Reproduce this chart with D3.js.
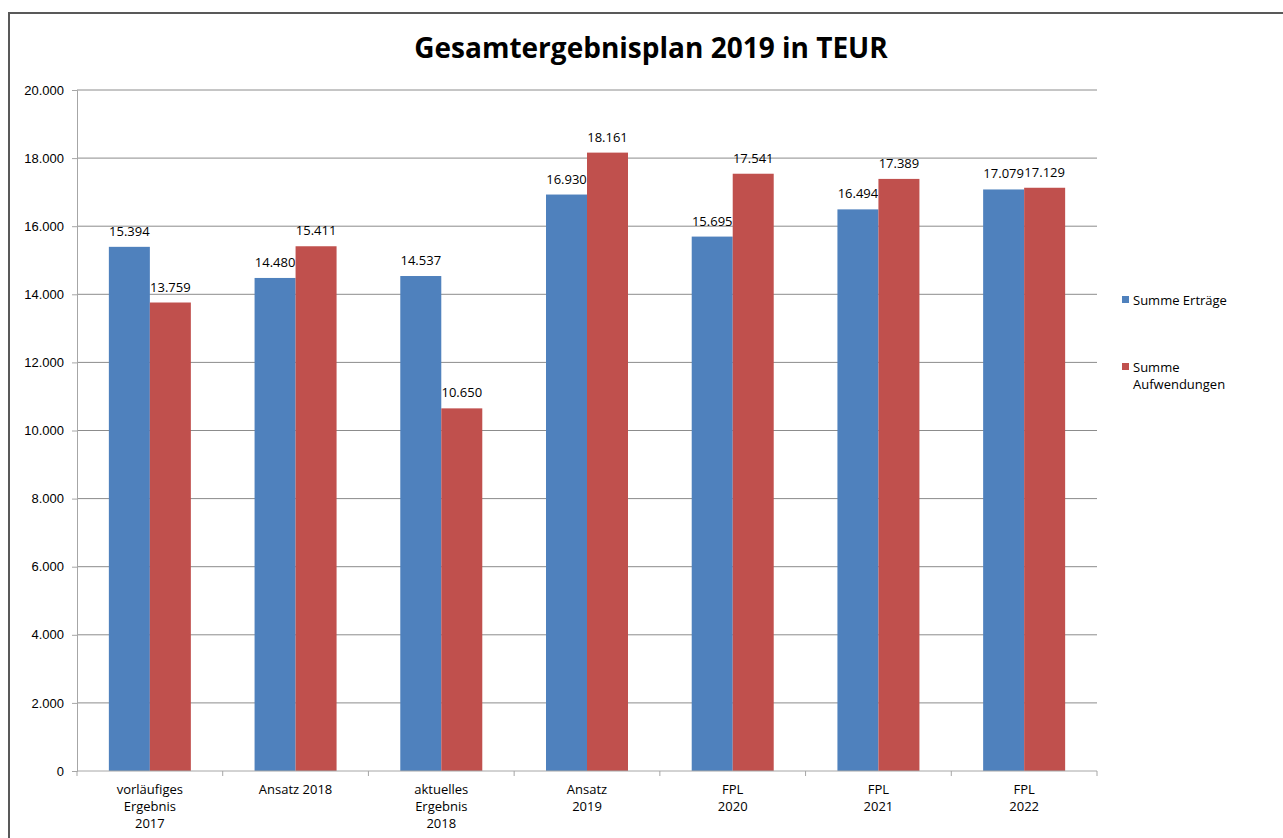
<!DOCTYPE html>
<html>
<head>
<meta charset="utf-8">
<script src="https://cdn.jsdelivr.net/npm/d3@7"></script>
<style>
  body { margin: 0; background: #fff; }
  svg { display: block; font-family: "Open Sans", "Liberation Sans", sans-serif; }
</style>
</head>
<body>
<svg id="chart" width="1283" height="838"></svg>
<script>
"use strict";

const categories = [
  ["vorläufiges", "Ergebnis", "2017"],
  ["Ansatz 2018"],
  ["aktuelles", "Ergebnis", "2018"],
  ["Ansatz", "2019"],
  ["FPL", "2020"],
  ["FPL", "2021"],
  ["FPL", "2022"]
];
const ertraege = [15394, 14480, 14537, 16930, 15695, 16494, 17079];
const aufwendungen = [13759, 15411, 10650, 18161, 17541, 17389, 17129];
const seriesNames = ["Summe Erträge", ["Summe", "Aufwendungen"]];
const colors = ["#4f81bd", "#c0504d"];
const yTicks = [0, 2000, 4000, 6000, 8000, 10000, 12000, 14000, 16000, 18000, 20000];

const svg = d3.select("#chart");
const fmt = (v) => d3.format(",")(v).replace(/,/g, ".");

const plotLeft = 77, plotRight = 1097, plotTop = 90, plotBottom = 771;

// outer frame
svg.append("rect")
  .attr("x", 9).attr("y", 13)
  .attr("width", 1300).attr("height", 900)
  .attr("fill", "none").attr("stroke", "#595959").attr("stroke-width", 2);

svg.append("text")
  .attr("x", 651).attr("y", 58)
  .attr("text-anchor", "middle")
  .attr("font-size", 28).attr("font-weight", "bold")
  .attr("fill", "#000")
  .text("Gesamtergebnisplan 2019 in TEUR");

const x = d3.scaleBand()
  .domain(d3.range(categories.length))
  .range([plotLeft, plotRight]);

const y = d3.scaleLinear().domain([0, 20000]).range([plotBottom, plotTop]);

// grid lines
svg.append("g")
  .selectAll("line")
  .data(yTicks.filter((d) => d > 0))
  .enter()
  .append("line")
  .attr("x1", plotLeft).attr("x2", plotRight)
  .attr("y1", (d) => y(d)).attr("y2", (d) => y(d))
  .attr("stroke", "#8c8c8c").attr("stroke-width", 1);

// y axis
const yAxis = svg.append("g")
  .attr("transform", `translate(${plotLeft},0)`)
  .call(d3.axisLeft(y).tickValues(yTicks).tickSize(5).tickPadding(8).tickFormat(fmt));
yAxis.select(".domain").attr("stroke", "#a6a6a6");
yAxis.selectAll(".tick line").attr("stroke", "#a6a6a6");
yAxis.selectAll("text").attr("font-size", 13).attr("fill", "#000");

// bars
const barW = 41;
const groups = svg.append("g")
  .selectAll("g")
  .data(categories)
  .enter()
  .append("g")
  .attr("transform", (d, i) => `translate(${x(i) + x.bandwidth() / 2},0)`);

[ertraege, aufwendungen].forEach((vals, s) => {
  groups.append("rect")
    .attr("x", s === 0 ? -barW : 0)
    .attr("y", (d, i) => y(vals[i]))
    .attr("width", barW)
    .attr("height", (d, i) => plotBottom - y(vals[i]))
    .attr("fill", colors[s]);

  groups.append("text")
    .attr("x", s === 0 ? -barW / 2 : barW / 2)
    .attr("y", (d, i) => y(vals[i]) - 11)
    .attr("text-anchor", "middle")
    .attr("font-size", 13)
    .attr("fill", "#000")
    .text((d, i) => fmt(vals[i]));
});

// x axis
const xAxisG = svg.append("g").attr("transform", `translate(0,${plotBottom})`);
xAxisG.append("line")
  .attr("x1", plotLeft).attr("x2", plotRight)
  .attr("stroke", "#a6a6a6");
xAxisG.selectAll(".tk")
  .data(d3.range(categories.length + 1))
  .enter()
  .append("line")
  .attr("x1", (i) => plotLeft + i * x.bandwidth())
  .attr("x2", (i) => plotLeft + i * x.bandwidth())
  .attr("y1", 0).attr("y2", 5)
  .attr("stroke", "#a6a6a6");

groups.append("text")
  .attr("y", plotBottom + 23)
  .attr("text-anchor", "middle")
  .attr("font-size", 13)
  .attr("fill", "#000")
  .selectAll("tspan")
  .data((d) => d)
  .enter()
  .append("tspan")
  .attr("x", 0)
  .attr("dy", (d, i) => (i === 0 ? 0 : 17))
  .text((d) => d);

// legend
const legendY = [300, 367];
seriesNames.forEach((name, s) => {
  svg.append("rect")
    .attr("x", 1122).attr("y", legendY[s] - 4)
    .attr("width", 7).attr("height", 7)
    .attr("fill", colors[s]);
  const lines = Array.isArray(name) ? name : [name];
  const t = svg.append("text")
    .attr("y", legendY[s] + 5)
    .attr("font-size", 13)
    .attr("fill", "#000");
  lines.forEach((ln, i) => {
    t.append("tspan")
      .attr("x", 1133)
      .attr("dy", i === 0 ? 0 : 17)
      .text(ln);
  });
});
</script>
</body>
</html>
